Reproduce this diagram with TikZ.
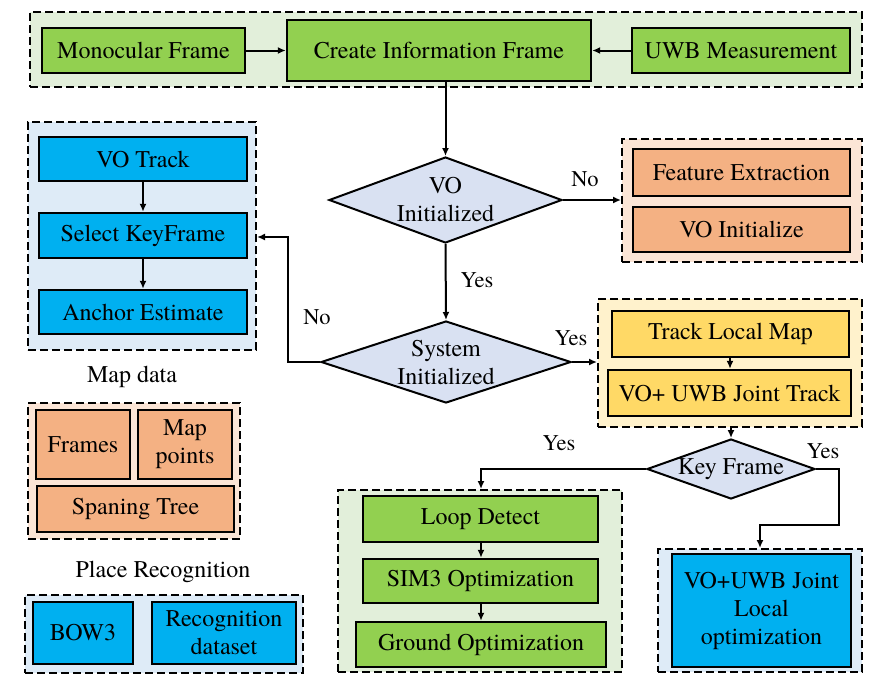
\documentclass[tikz,border=0pt]{standalone}
\usepackage{fontspec}
\IfFontExistsTF{texgyretermes-regular.otf}{\setmainfont{texgyretermes-regular.otf}[BoldFont=texgyretermes-bold.otf]}{}
\usetikzlibrary{arrows.meta,shapes.geometric}
\definecolor{grpGreen}{HTML}{E2EFDA}
\definecolor{boxGreen}{HTML}{92D050}
\definecolor{grpBlue}{HTML}{DEEBF7}
\definecolor{boxBlue}{HTML}{00B0F0}
\definecolor{grpOrange}{HTML}{FBE5D6}
\definecolor{boxOrange}{HTML}{F4B183}
\definecolor{grpYellow}{HTML}{FFF2CC}
\definecolor{boxYellow}{HTML}{FFD966}
\definecolor{decFill}{HTML}{D9E1F2}
\tikzset{
  txt/.style={font=\rmfamily\fontsize{24}{28}\selectfont, align=center},
  lbl/.style={font=\rmfamily\fontsize{22.5}{26}\selectfont, inner sep=0pt},
  grp/.style={draw=black, line width=2pt, dash pattern=on 8pt off 4pt, inner sep=0pt},
  box/.style={draw=black, line width=2.4pt, inner sep=0pt, txt},
  dec/.style={draw=black, line width=2pt, diamond, inner sep=0pt, fill=decFill},
  conn/.style={line width=2pt, -{Latex[length=8pt,width=7pt]}},
}
\begin{document}
\begin{tikzpicture}[x=1pt,y=-1pt]
\useasboundingbox (0,0) rectangle (889,689);
\fill[white] (0,0) rectangle (889,689);

% top group
\node[grp, fill=grpGreen, minimum width=832, minimum height=75] (gtop) at (446,49.5) {};
\node[box, fill=boxGreen, minimum width=203, minimum height=45] (mono) at (143.5,50.5) {Monocular Frame};
\node[box, fill=boxGreen, minimum width=304, minimum height=61] (cif) at (439,50.5) {Create Information Frame};
\node[box, fill=boxGreen, minimum width=218, minimum height=45] (uwb) at (741,50.5) {UWB Measurement};

% left group
\node[grp, fill=grpBlue, minimum width=228, minimum height=228] (gleft) at (142,236) {};
\node[box, fill=boxBlue, minimum width=208, minimum height=44] (vot) at (143,159) {VO Track};
\node[box, fill=boxBlue, minimum width=208, minimum height=45] (skf) at (143,235.5) {Select KeyFrame};
\node[box, fill=boxBlue, minimum width=208, minimum height=44] (anc) at (143,312) {Anchor Estimate};

% feature group
\node[grp, fill=grpOrange, minimum width=240, minimum height=123] (gfeat) at (742,200.5) {};
\node[box, fill=boxOrange, minimum width=217, minimum height=47] (fe) at (741.5,172.5) {Feature Extraction};
\node[box, fill=boxOrange, minimum width=217, minimum height=45] (voi) at (741.5,229.5) {VO Initialize};

% track group
\node[grp, fill=grpYellow, minimum width=264, minimum height=128] (gtrack) at (730,363) {};
\node[box, fill=boxYellow, minimum width=237, minimum height=46] (tlm) at (730.5,334) {Track Local Map};
\node[box, fill=boxYellow, minimum width=243, minimum height=46] (vjt) at (729.5,393) {VO+ UWB Joint Track};

% diamonds
\node[dec, minimum width=233, minimum height=86, label={[txt]center:VO\\Initialized}] (vod) at (445.5,200) {};
\node[dec, minimum width=250, minimum height=82, label={[txt]center:System\\Initialized}] (sysd) at (446,362) {};
\node[dec, minimum width=168, minimum height=60, label={[txt]center:Key Frame}] (kfd) at (731,469) {};

% loop group
\node[grp, fill=grpGreen, minimum width=284, minimum height=182] (gloop) at (480,581) {};
\node[box, fill=boxGreen, minimum width=235, minimum height=46] (ld) at (480.5,519) {Loop Detect};
\node[box, fill=boxGreen, minimum width=235, minimum height=44] (sim) at (480.5,581) {SIM3 Optimization};
\node[box, fill=boxGreen, minimum width=250, minimum height=45] (gro) at (481,644.5) {Ground Optimization};

% local optimization group
\node[grp, fill=grpBlue, minimum width=204, minimum height=123] (glocal) at (760,610.5) {};
\node[box, fill=boxBlue, minimum width=179, minimum height=113] (lopt) at (761.5,610.5) {VO+UWB Joint\\Local\\optimization};

% map data
\node[txt, inner sep=0pt] (mdl) at (132,377) {Map data};
\node[grp, fill=grpOrange, minimum width=212, minimum height=136] (gmap) at (134,471) {};
\node[box, fill=boxOrange, minimum width=94, minimum height=69] (frm) at (83,444.5) {Frames};
\node[box, fill=boxOrange, minimum width=94, minimum height=69] (mpt) at (185,444.5) {Map\\points};
\node[box, fill=boxOrange, minimum width=197, minimum height=46] (spt) at (135.5,509) {Spaning Tree};

% place recognition
\node[txt, inner sep=0pt] (prl) at (163,572) {Place Recognition};
\node[grp, fill=grpBlue, minimum width=278, minimum height=78] (gplace) at (164,634) {};
\node[box, fill=boxBlue, minimum width=100, minimum height=62] (bow) at (83,633) {BOW3};
\node[box, fill=boxBlue, minimum width=144, minimum height=62] (rds) at (224,633) {Recognition\\dataset};

% connectors
\draw[conn] (mono.east) -- (cif.west |- mono.east);
\draw[conn] (uwb.west) -- (cif.east |- uwb.west);
\draw[conn] (vod.north |- cif.south) -- (vod.north);
\draw[conn] (vod.east) -- (gfeat.west |- vod.east);
\node[lbl] (lno1) at (585,179) {No};
\draw[conn] (vod.south) -- (sysd.north);
\node[lbl] (lyes1) at (477,280) {Yes};
\draw[conn] (sysd.east) -- (gtrack.west |- sysd.east);
\node[lbl] (lyes2) at (571,338) {Yes};
\coordinate (nb1) at (288,362);
\coordinate (nb2) at (288,237);
\draw[conn] (sysd.west) -- (nb1) -- (nb2) -- (gleft.east |- nb2);
\node[lbl] (lno2) at (317,317) {No};
\draw[conn] (vot.south) -- (skf.north);
\draw[conn] (skf.south) -- (anc.north);
\draw[conn] (tlm.south -| gtrack.south) -- (vjt.north -| gtrack.south);
\draw[conn] (gtrack.south -| kfd.north) -- (kfd.north);
\coordinate (kl) at (481,469);
\draw[conn] (kfd.west) -- (kl) -- (gloop.north -| kl);
\node[lbl] (lyes3) at (559,443) {Yes};
\coordinate (kr1) at (839,469);
\coordinate (kr2) at (839,525);
\coordinate (kr3) at (760,525);
\draw[conn] (kfd.east) -- (kr1) -- (kr2) -- (kr3) -- (glocal.north -| kr3);
\node[lbl] (lyes4) at (823,451) {Yes};
\draw[conn] (ld.south -| kl) -- (sim.north -| kl);
\draw[conn] (sim.south -| kl) -- (gro.north -| kl);
\end{tikzpicture}
\end{document}
